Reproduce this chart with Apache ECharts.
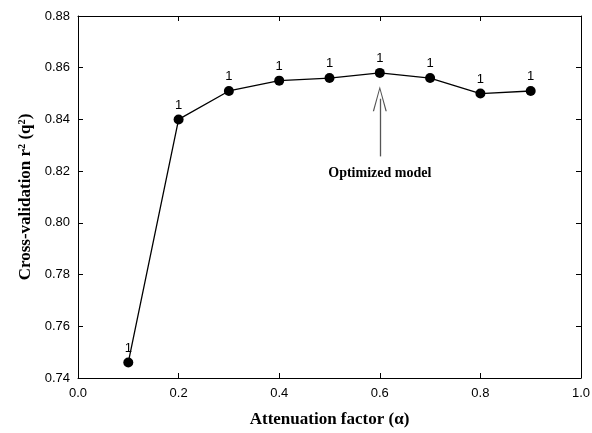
<!DOCTYPE html>
<html>
<head>
<meta charset="utf-8">
<script src="https://cdn.jsdelivr.net/npm/echarts@6/dist/echarts.min.js"></script>
<style>
html, body { margin: 0; padding: 0; background: #fff; }
#chart { width: 592px; height: 433px; }
</style>
</head>
<body>
<div id="chart"></div>
<script>
// attenuation factor vs cross-validation q2
var alphas = [0.1, 0.2, 0.3, 0.4, 0.5, 0.6, 0.7, 0.8, 0.9];
var q2 = [0.746, 0.840, 0.851, 0.855, 0.856, 0.858, 0.856, 0.850, 0.851];
var pointLabels = ['1', '1', '1', '1', '1', '1', '1', '1', '1'];
// arrow annotation for optimized model: [alpha, from q2, to q2]
var arrowAt = [0.6, 0.8257, 0.848];
var arrowText = 'Optimized model';

var seriesData = alphas.map(function (a, i) {
    return { value: [a, q2[i]], label: { formatter: pointLabels[i] } };
});

var sans = '"Liberation Sans", Arial, sans-serif';
var serif = '"Liberation Serif", "Times New Roman", serif';

function frameAxis(pos, extra) {
    var ax = {
        type: 'value',
        position: pos,
        axisLine: { show: true, onZero: false, lineStyle: { color: '#000', width: 1 } },
        axisTick: { show: true, inside: true, length: 5, lineStyle: { color: '#000' } },
        axisLabel: { show: false },
        splitLine: { show: false }
    };
    for (var k in extra) ax[k] = extra[k];
    return ax;
}

var chart = echarts.init(document.getElementById('chart'));
chart.setOption({
    animation: false,
    grid: { left: 78, right: 11, top: 16, bottom: 55, containLabel: false, outerBoundsMode: 'none' },
    xAxis: [
        frameAxis('bottom', {
            min: 0, max: 1, interval: 0.2,
            axisLabel: {
                show: true, color: '#000', fontSize: 13, fontFamily: sans, margin: 9,
                formatter: function (v) { return v.toFixed(1); }
            },
            name: 'Attenuation factor (\u03b1)',
            nameLocation: 'middle',
            nameGap: 33,
            nameTextStyle: { color: '#000', fontSize: 17, fontWeight: 'bold', fontFamily: serif }
        }),
        frameAxis('top', { min: 0, max: 1, interval: 0.2 })
    ],
    yAxis: [
        frameAxis('left', {
            min: 0.74, max: 0.88, interval: 0.02,
            axisLabel: {
                show: true, color: '#000', fontSize: 13, fontFamily: sans, margin: 8,
                formatter: function (v) { return v.toFixed(2); }
            },
            name: 'Cross-validation r\u00b2 (q\u00b2)',
            nameLocation: 'middle',
            nameGap: 43,
            nameTextStyle: { color: '#000', fontSize: 17, fontWeight: 'bold', fontFamily: serif }
        }),
        frameAxis('right', { min: 0.74, max: 0.88, interval: 0.02 })
    ],
    series: [{
        type: 'line',
        data: seriesData,
        symbol: 'circle',
        symbolSize: 10,
        itemStyle: { color: '#000' },
        lineStyle: { color: '#000', width: 1.3 },
        label: {
            show: true, position: 'top', distance: 3,
            color: '#000', fontSize: 13, fontFamily: sans
        },
        markLine: {
            silent: true,
            symbol: ['none', 'path://M5,0 L0,22 L0.9,22 L5,3 L9.1,22 L10,22 Z'],
            symbolSize: [14, 25],
            lineStyle: { color: '#555', width: 1.3, type: 'solid' },
            label: {
                show: true, position: 'start', distance: 10,
                formatter: arrowText,
                color: '#000', fontSize: 14, fontWeight: 'bold', fontFamily: serif
            },
            data: [[
                { coord: [arrowAt[0], arrowAt[1]] },
                { coord: [arrowAt[0], arrowAt[2]] }
            ]]
        }
    }]
});
</script>
</body>
</html>
